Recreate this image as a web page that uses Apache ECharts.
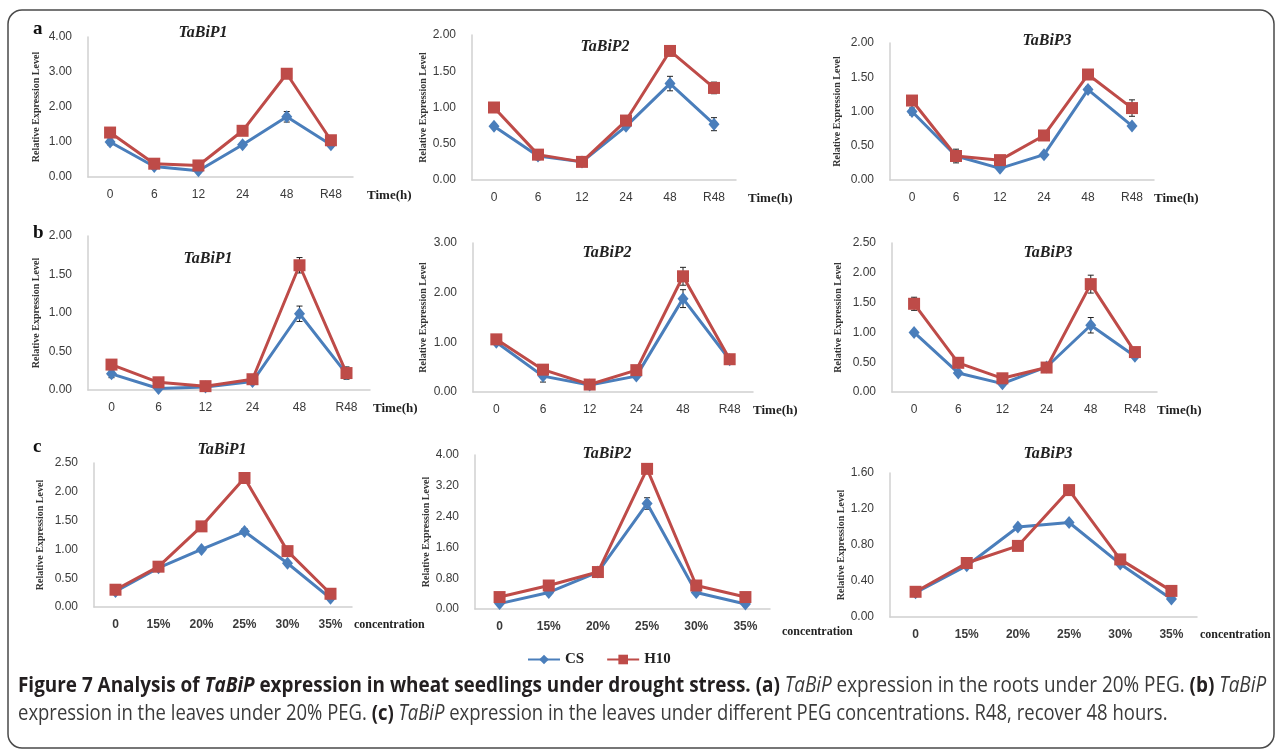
<!DOCTYPE html>
<html><head><meta charset="utf-8">
<script src="https://cdn.jsdelivr.net/npm/echarts@6/dist/echarts.min.js"></script>
<style>html,body{margin:0;padding:0;background:#fff}#c{width:1279px;height:753px}</style>
</head><body><div id="c"></div>
<script>
// ---------- data ----------
const timeCats = ['0', '6', '12', '24', '48', 'R48'];
const concCats = ['0', '15%', '20%', '25%', '30%', '35%'];
const seriesNames = ['CS', 'H10'];
const panelTitles = ['TaBiP1', 'TaBiP2', 'TaBiP3'];
const rowLetters = ['a', 'b', 'c'];

// row a: roots, 20% PEG
const a1CS  = [1.00, 0.30, 0.18, 0.92, 1.72, 0.92];
const a1H10 = [1.27, 0.38, 0.33, 1.32, 2.95, 1.05];
const a1CSErr  = [0.08, 0.05, 0.04, 0.05, 0.15, 0.06];
const a1H10Err = [0.08, 0.05, 0.04, 0.06, 0.08, 0.08];
const a2CS  = [0.74, 0.33, 0.25, 0.74, 1.33, 0.77];
const a2H10 = [1.00, 0.35, 0.25, 0.82, 1.78, 1.27];
const a2CSErr  = [0.03, 0.05, 0.02, 0.03, 0.10, 0.09];
const a2H10Err = [0.03, 0.04, 0.02, 0.04, 0.03, 0.08];
const a3CS  = [1.00, 0.35, 0.17, 0.37, 1.32, 0.79];
const a3H10 = [1.16, 0.35, 0.29, 0.65, 1.54, 1.05];
const a3CSErr  = [0.05, 0.10, 0.03, 0.03, 0.04, 0.03];
const a3H10Err = [0.04, 0.05, 0.03, 0.04, 0.04, 0.12];

// row b: leaves, 20% PEG
const b1CS  = [0.21, 0.02, 0.04, 0.11, 0.99, 0.21];
const b1H10 = [0.33, 0.10, 0.05, 0.14, 1.62, 0.22];
const b1CSErr  = [0.05, 0.02, 0.01, 0.02, 0.10, 0.05];
const b1H10Err = [0.04, 0.02, 0.01, 0.02, 0.10, 0.08];
const b2CS  = [1.00, 0.32, 0.14, 0.32, 1.88, 0.65];
const b2H10 = [1.06, 0.45, 0.15, 0.44, 2.33, 0.66];
const b2CSErr  = [0.04, 0.12, 0.03, 0.03, 0.18, 0.03];
const b2H10Err = [0.04, 0.04, 0.03, 0.04, 0.18, 0.03];
const b3CS  = [1.00, 0.32, 0.14, 0.42, 1.12, 0.60];
const b3H10 = [1.48, 0.49, 0.23, 0.41, 1.81, 0.67];
const b3CSErr  = [0.02, 0.03, 0.02, 0.02, 0.13, 0.03];
const b3H10Err = [0.11, 0.03, 0.03, 0.02, 0.15, 0.05];

// row c: leaves, PEG concentrations
const c1CS  = [0.27, 0.68, 1.00, 1.31, 0.76, 0.15];
const c1H10 = [0.30, 0.70, 1.40, 2.24, 0.97, 0.23];
const c1CSErr  = [0.02, 0.03, 0.03, 0.05, 0.03, 0.02];
const c1H10Err = [0.02, 0.03, 0.03, 0.04, 0.04, 0.02];
const c2CS  = [0.14, 0.43, 0.96, 2.74, 0.43, 0.13];
const c2H10 = [0.31, 0.61, 0.96, 3.64, 0.61, 0.31];
const c2CSErr  = [0.03, 0.03, 0.04, 0.15, 0.03, 0.03];
const c2H10Err = [0.03, 0.03, 0.04, 0.12, 0.03, 0.03];
const c3CS  = [0.27, 0.57, 1.00, 1.05, 0.59, 0.20];
const c3H10 = [0.28, 0.60, 0.79, 1.41, 0.64, 0.29];
const c3CSErr  = [0.01, 0.02, 0.02, 0.02, 0.02, 0.01];
const c3H10Err = [0.01, 0.02, 0.02, 0.02, 0.02, 0.01];

// y-axis ranges (max, interval)
const yMax  = [4, 2, 2, 2, 3, 2.5, 2.5, 4, 1.6];
const yStep = [1, 0.5, 0.5, 0.5, 1, 0.5, 0.5, 0.8, 0.4];

// ---------- layout ----------
const grids = [
  {left: 88,  top: 37,  width: 265, height: 140},
  {left: 472, top: 35,  width: 264, height: 145},
  {left: 890, top: 43,  width: 264, height: 137},
  {left: 88,  top: 236, width: 282, height: 154},
  {left: 473, top: 243, width: 280, height: 149},
  {left: 892, top: 243, width: 265, height: 149},
  {left: 94,  top: 463, width: 258, height: 144},
  {left: 475, top: 455, width: 295, height: 154},
  {left: 890, top: 473, width: 307, height: 144}
];
const titlePos = [[198, 20], [600, 34], [1042, 28], [203, 246], [602, 240], [1043, 240], [217, 437], [602, 441], [1043, 441]];
const yNameGap = [47, 44, 48, 47, 45, 49, 49, 36, 41];
const xNameGap = [14, 12, 0, 3, 0, 0, 2, 12, 3];
const xNamePad = [12, 12, 12, 12, 12, 12, 12, 17, 12];

const panels = [
  [a1CS, a1H10, a1CSErr, a1H10Err], [a2CS, a2H10, a2CSErr, a2H10Err], [a3CS, a3H10, a3CSErr, a3H10Err],
  [b1CS, b1H10, b1CSErr, b1H10Err], [b2CS, b2H10, b2CSErr, b2H10Err], [b3CS, b3H10, b3CSErr, b3H10Err],
  [c1CS, c1H10, c1CSErr, c1H10Err], [c2CS, c2H10, c2CSErr, c2H10Err], [c3CS, c3H10, c3CSErr, c3H10Err]
];

const BLUE = '#4a7ebb', RED = '#be4b48';
const serif = '"Liberation Serif", "Times New Roman", serif';
const sans = '"Liberation Sans", Arial, sans-serif';
const capFont = '"Open Sans", sans-serif';

const xAxis = [], yAxis = [], series = [], title = [];
panels.forEach((p, i) => {
  const row = Math.floor(i / 3);
  const cats = row === 2 ? concCats : timeCats;
  xAxis.push({
    type: 'category', gridIndex: i, data: cats, boundaryGap: true,
    axisLine: {lineStyle: {color: '#d0d0d0', width: 1.5}}, axisTick: {show: false},
    axisLabel: {color: '#3a3a3a', fontFamily: sans, fontSize: 12, fontWeight: row === 2 ? 'bold' : 'normal', margin: 12},
    name: row === 2 ? 'concentration' : 'Time(h)', nameLocation: 'end', nameGap: xNameGap[i],
    nameTextStyle: {fontFamily: serif, fontWeight: 'bold', fontSize: row === 2 ? 12 : 13, color: '#222',
      align: 'left', verticalAlign: 'top', padding: [xNamePad[i], 0, 0, 0]}
  });
  yAxis.push({
    type: 'value', gridIndex: i, min: 0, max: yMax[i], interval: yStep[i],
    axisLine: {show: true, lineStyle: {color: '#d0d0d0', width: 1.5}}, axisTick: {show: false},
    splitLine: {show: false},
    axisLabel: {color: '#3a3a3a', fontFamily: sans, fontSize: 12, margin: 16,
      formatter: v => v.toFixed(2)},
    name: 'Relative Expression Level', nameLocation: 'middle', nameRotate: 90, nameGap: yNameGap[i],
    nameTextStyle: {fontFamily: serif, fontWeight: 'bold', fontSize: 10, color: '#333'}
  });
  title.push({
    text: panelTitles[i % 3], left: titlePos[i][0], top: titlePos[i][1], textAlign: 'center',
    textStyle: {fontFamily: serif, fontStyle: 'italic', fontWeight: 'bold', fontSize: 16, color: '#222'}
  });
  [0, 1].forEach(s => {
    const vals = p[s], errs = p[2 + s];
    series.push({
      type: 'custom', xAxisIndex: i, yAxisIndex: i, z: 1, silent: true,
      data: vals.map((v, k) => [k, v - errs[k], v + errs[k]]),
      encode: {x: 0, y: [1, 2]},
      renderItem: (params, api) => {
        const lo = api.coord([api.value(0), api.value(1)]);
        const hi = api.coord([api.value(0), api.value(2)]);
        const w = 3;
        const st = {stroke: '#222', lineWidth: 1};
        return {type: 'group', children: [
          {type: 'line', shape: {x1: lo[0], y1: lo[1], x2: hi[0], y2: hi[1]}, style: st},
          {type: 'line', shape: {x1: lo[0] - w, y1: lo[1], x2: lo[0] + w, y2: lo[1]}, style: st},
          {type: 'line', shape: {x1: hi[0] - w, y1: hi[1], x2: hi[0] + w, y2: hi[1]}, style: st}
        ]};
      }
    });
    series.push({
      name: seriesNames[s], type: 'line', xAxisIndex: i, yAxisIndex: i, z: 3 + s,
      data: vals, symbol: s === 0 ? 'diamond' : 'rect', symbolSize: s === 0 ? [11, 13] : 12,
      showSymbol: true, lineStyle: {width: 3, color: s === 0 ? BLUE : RED},
      itemStyle: {color: s === 0 ? BLUE : RED}, animation: false
    });
  });
});

const capRich = {
  b: {font: 'bold 21px ' + capFont, fill: '#231f20'},
  bi: {font: 'italic bold 21px ' + capFont, fill: '#231f20'},
  i: {font: 'italic 21px ' + capFont, fill: '#3a3a3a'},
  n: {font: '21px ' + capFont, fill: '#3a3a3a'}
};

const graphic = [
  {type: 'rect', shape: {x: 8, y: 10, width: 1266, height: 738, r: 14},
   style: {fill: 'none', stroke: '#4a4a4a', lineWidth: 1.5}, silent: true},
  ...rowLetters.map((t, r) => ({
    type: 'text', left: 33, top: [20, 224, 438][r],
    style: {text: t, font: 'bold 19px ' + serif, fill: '#111'}
  })),
  {type: 'text', left: 18, top: 676, scaleX: 0.9,
   style: {
     text: '{b|Figure 7 Analysis of }{bi|TaBiP}{b| expression in wheat seedlings under drought stress. (a) }{i|TaBiP}{n| expression in the roots under 20% PEG. }{b|(b) }{i|TaBiP}',
     rich: capRich
   }},
  {type: 'text', left: 18, top: 704, scaleX: 0.88,
   style: {
     text: '{n|expression in the leaves under 20% PEG. }{b|(c) }{i|TaBiP}{n| expression in the leaves under different PEG concentrations. R48, recover 48 hours.}',
     rich: capRich
   }}
];

const chart = echarts.init(document.getElementById('c'));
chart.setOption({
  animation: false,
  backgroundColor: '#fff',
  title: title,
  grid: grids,
  xAxis: xAxis,
  yAxis: yAxis,
  series: series,
  legend: {
    data: seriesNames, top: 647, left: 522, itemWidth: 32, itemHeight: 12, itemGap: 22,
    textStyle: {fontFamily: serif, fontWeight: 'bold', fontSize: 15, color: '#222'}
  },
  graphic: graphic
});
</script></body></html>
